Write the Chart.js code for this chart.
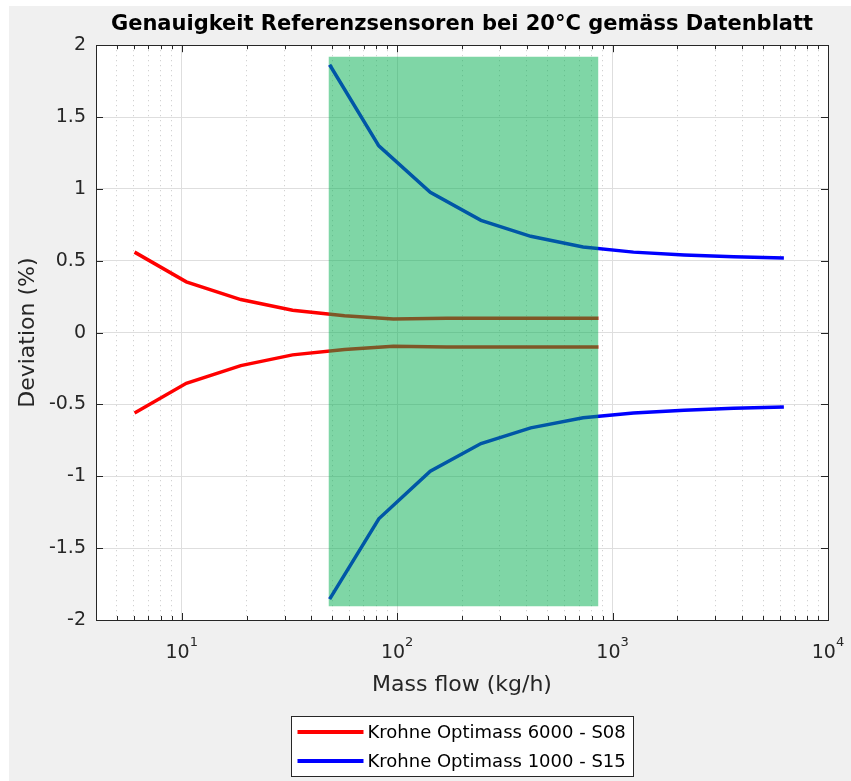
<!DOCTYPE html>
<html>
<head>
<meta charset="utf-8">
<script src="https://cdn.jsdelivr.net/npm/chart.js@4.4.1/dist/chart.umd.min.js"></script>
<style>
    html, body { margin: 0; padding: 0; background: #ffffff; }
    #wrap { position: absolute; left: 0; top: 0; width: 851px; height: 781px; }
</style>
</head>
<body>
<div id="wrap"><canvas id="chart" width="851" height="781"></canvas></div>
<script>
    // Krohne Optimass 6000 - S08 (upper and lower limit)
    var s08Flow = [6.04, 10.5, 18.8, 32.7, 57, 96, 170, 300, 520, 860];
    var s08Upper = [0.56, 0.353, 0.23, 0.155, 0.118, 0.095, 0.1, 0.1, 0.1, 0.1];
    var s08Lower = [-0.56, -0.353, -0.23, -0.155, -0.118, -0.095, -0.1, -0.1, -0.1, -0.1];

    // Krohne Optimass 1000 - S15
    var s15Flow = [48.6, 82.2, 142.5, 245, 417, 730, 1250, 2150, 3650, 6240];
    var s15Upper = [1.864, 1.3, 0.976, 0.781, 0.67, 0.596, 0.56, 0.54, 0.527, 0.52];
    var s15Lower = [-1.855, -1.296, -0.965, -0.772, -0.663, -0.593, -0.56, -0.54, -0.527, -0.517];

    // highlighted measuring range
    var rangeFlow = [48, 860];
    var rangeDev = [-1.905, 1.92];

    var seriesLabels = ['Krohne Optimass 6000 - S08', 'Krohne Optimass 1000 - S15'];
    var seriesColors = ['#ff0000', '#0000ff'];

    var xMajorTicks = [10, 100, 1000, 10000];
    var xTickExponents = ['1', '2', '3', '4'];
    var yTicks = [-2, -1.5, -1, -0.5, 0, 0.5, 1, 1.5, 2];

    var FONT = "'DejaVu Sans', Verdana, sans-serif";
    var AXIS_COLOR = '#262626';

    function toPoints(xs, ys) {
        var ret = [];
        for (var i = 0; i < xs.length; i++) {
            ret.push({ x: xs[i], y: ys[i] });
        }
        return ret;
    }

    function isMajor(v) {
        return xMajorTicks.indexOf(v) >= 0;
    }

    function buildXTicks() {
        var ret = [];
        var decades = [1, 10, 100, 1000];
        for (var d = 0; d < decades.length; d++) {
            for (var m = 1; m < 10; m++) {
                var v = decades[d] * m;
                if (v >= 4) ret.push({ value: v });
            }
        }
        ret.push({ value: 10000 });
        return ret;
    }

    var backgroundPlugin = {
        id: 'matlabBackground',
        beforeDraw: function (chart) {
            var ctx = chart.ctx;
            ctx.save();
            ctx.fillStyle = '#ffffff';
            ctx.fillRect(0, 0, chart.width, chart.height);
            ctx.fillStyle = '#f0f0f0';
            ctx.fillRect(9, 6, chart.width - 9, chart.height - 6);
            var a = chart.chartArea;
            ctx.fillStyle = '#ffffff';
            ctx.fillRect(a.left, a.top, a.right - a.left, a.bottom - a.top);
            ctx.restore();
        }
    };

    // axes box, inward tick marks and the 10^n tick labels
    var boxPlugin = {
        id: 'matlabBox',
        afterDraw: function (chart) {
            var ctx = chart.ctx;
            var a = chart.chartArea;
            var xs = chart.scales.x;
            var ys = chart.scales.y;
            ctx.save();
            ctx.strokeStyle = AXIS_COLOR;
            ctx.lineWidth = 1;
            ctx.beginPath();
            xs.ticks.forEach(function (t) {
                var px = Math.round(xs.getPixelForValue(t.value)) + 0.5;
                var len = isMajor(t.value) ? 7 : 4;
                ctx.moveTo(px, a.bottom);
                ctx.lineTo(px, a.bottom - len);
                ctx.moveTo(px, a.top);
                ctx.lineTo(px, a.top + len);
            });
            ys.ticks.forEach(function (t) {
                var py = Math.round(ys.getPixelForValue(t.value)) + 0.5;
                ctx.moveTo(a.left, py);
                ctx.lineTo(a.left + 7, py);
                ctx.moveTo(a.right, py);
                ctx.lineTo(a.right - 7, py);
            });
            ctx.stroke();
            ctx.strokeRect(Math.round(a.left) + 0.5, Math.round(a.top) + 0.5,
                Math.round(a.right - a.left), Math.round(a.bottom - a.top));

            ctx.fillStyle = AXIS_COLOR;
            ctx.textBaseline = 'middle';
            ctx.textAlign = 'left';
            for (var i = 0; i < xMajorTicks.length; i++) {
                var cx = xs.getPixelForValue(xMajorTicks[i]);
                ctx.font = '19px ' + FONT;
                var wBase = ctx.measureText('10').width;
                ctx.font = '13px ' + FONT;
                var wExp = ctx.measureText(xTickExponents[i]).width;
                var x0 = cx - (wBase + wExp) / 2;
                ctx.font = '19px ' + FONT;
                ctx.fillText('10', x0, a.bottom + 33);
                ctx.font = '13px ' + FONT;
                ctx.fillText(xTickExponents[i], x0 + wBase, a.bottom + 23);
            }
            ctx.restore();
        }
    };

    var legendPlugin = {
        id: 'matlabLegend',
        afterDraw: function (chart) {
            var ctx = chart.ctx;
            var a = chart.chartArea;
            ctx.save();
            ctx.font = '18px ' + FONT;
            var textW = 0;
            for (var i = 0; i < seriesLabels.length; i++) {
                textW = Math.max(textW, ctx.measureText(seriesLabels[i]).width);
            }
            var sample = 66;
            var w = Math.round(6 + sample + 4 + textW + 8);
            var h = 60;
            var left = Math.round((a.left + a.right) / 2 - w / 2) + 0.5;
            var top = 716.5;
            ctx.fillStyle = '#ffffff';
            ctx.fillRect(left, top, w, h);
            ctx.strokeStyle = AXIS_COLOR;
            ctx.lineWidth = 1;
            ctx.strokeRect(left, top, w, h);
            for (var j = 0; j < seriesLabels.length; j++) {
                var y = top + 15.5 + j * 29;
                ctx.strokeStyle = seriesColors[j];
                ctx.lineWidth = 4;
                ctx.beginPath();
                ctx.moveTo(left + 6, y);
                ctx.lineTo(left + 6 + sample, y);
                ctx.stroke();
                ctx.fillStyle = '#000000';
                ctx.textBaseline = 'middle';
                ctx.textAlign = 'left';
                ctx.fillText(seriesLabels[j], left + 6 + sample + 4, y + 1);
            }
            ctx.restore();
        }
    };

    function lineDataset(label, xs, ys, color) {
        return {
            label: label,
            data: toPoints(xs, ys),
            showLine: true,
            borderColor: color,
            backgroundColor: color,
            borderWidth: 3.5,
            pointRadius: 0,
            pointHoverRadius: 0,
            tension: 0,
            fill: false,
            order: 1
        };
    }

    var ctx = document.getElementById('chart').getContext('2d');
    var chart = new Chart(ctx, {
        type: 'scatter',
        data: {
            datasets: [
                lineDataset(seriesLabels[0], s08Flow, s08Upper, seriesColors[0]),
                lineDataset('', s08Flow, s08Lower, seriesColors[0]),
                lineDataset(seriesLabels[1], s15Flow, s15Upper, seriesColors[1]),
                lineDataset('', s15Flow, s15Lower, seriesColors[1]),
                {
                    label: 'range',
                    data: toPoints(rangeFlow, [rangeDev[1], rangeDev[1]]),
                    showLine: true,
                    borderWidth: 0,
                    borderColor: 'rgba(0,0,0,0)',
                    backgroundColor: 'rgba(0,173,77,0.5)',
                    pointRadius: 0,
                    fill: { value: rangeDev[0] },
                    order: 0
                }
            ]
        },
        options: {
            responsive: false,
            animation: false,
            devicePixelRatio: 1,
            layout: { padding: { left: 9, top: 0, right: 23, bottom: 71 } },
            plugins: {
                legend: { display: false },
                tooltip: { enabled: false },
                title: {
                    display: true,
                    fullSize: false,
                    text: 'Genauigkeit Referenzsensoren bei 20\u00b0C gem\u00e4ss Datenblatt',
                    color: '#000000',
                    font: { family: FONT, size: 21, weight: 'bold' },
                    padding: { top: 12, bottom: 8 }
                }
            },
            scales: {
                x: {
                    type: 'logarithmic',
                    min: 4,
                    max: 10000,
                    afterBuildTicks: function (scale) {
                        scale.ticks = buildXTicks();
                    },
                    afterFit: function (scale) {
                        scale.height = 90;
                        scale.paddingLeft = 0;
                        scale.paddingRight = 0;
                    },
                    ticks: {
                        autoSkip: false,
                        maxRotation: 0,
                        callback: function () {
                            return '';
                        }
                    },
                    grid: {
                        drawTicks: false,
                        color: function (c) {
                            return c.tick && !isMajor(c.tick.value) ? '#c8c8c8' : '#dedede';
                        }
                    },
                    border: {
                        display: false,
                        dash: function (c) {
                            return c.tick && !isMajor(c.tick.value) ? [1, 4] : [];
                        }
                    },
                    title: {
                        display: true,
                        text: 'Mass flow (kg/h)',
                        color: AXIS_COLOR,
                        font: { family: FONT, size: 22 },
                        padding: { top: 0, bottom: 12 }
                    }
                },
                y: {
                    type: 'linear',
                    min: -2,
                    max: 2,
                    afterBuildTicks: function (scale) {
                        scale.ticks = yTicks.map(function (v) { return { value: v }; });
                    },
                    afterFit: function (scale) {
                        scale.width = 87;
                        scale.paddingTop = 0;
                        scale.paddingBottom = 0;
                    },
                    ticks: {
                        padding: 10,
                        color: AXIS_COLOR,
                        font: { family: FONT, size: 19 },
                        callback: function (value) {
                            return String(value);
                        }
                    },
                    grid: {
                        drawTicks: false,
                        color: '#dedede'
                    },
                    border: { display: false },
                    title: {
                        display: true,
                        text: 'Deviation (%)',
                        color: AXIS_COLOR,
                        font: { family: FONT, size: 22 },
                        padding: { top: 6, bottom: 0 }
                    }
                }
            }
        },
        plugins: [backgroundPlugin, boxPlugin, legendPlugin]
    });
</script>
</body>
</html>
